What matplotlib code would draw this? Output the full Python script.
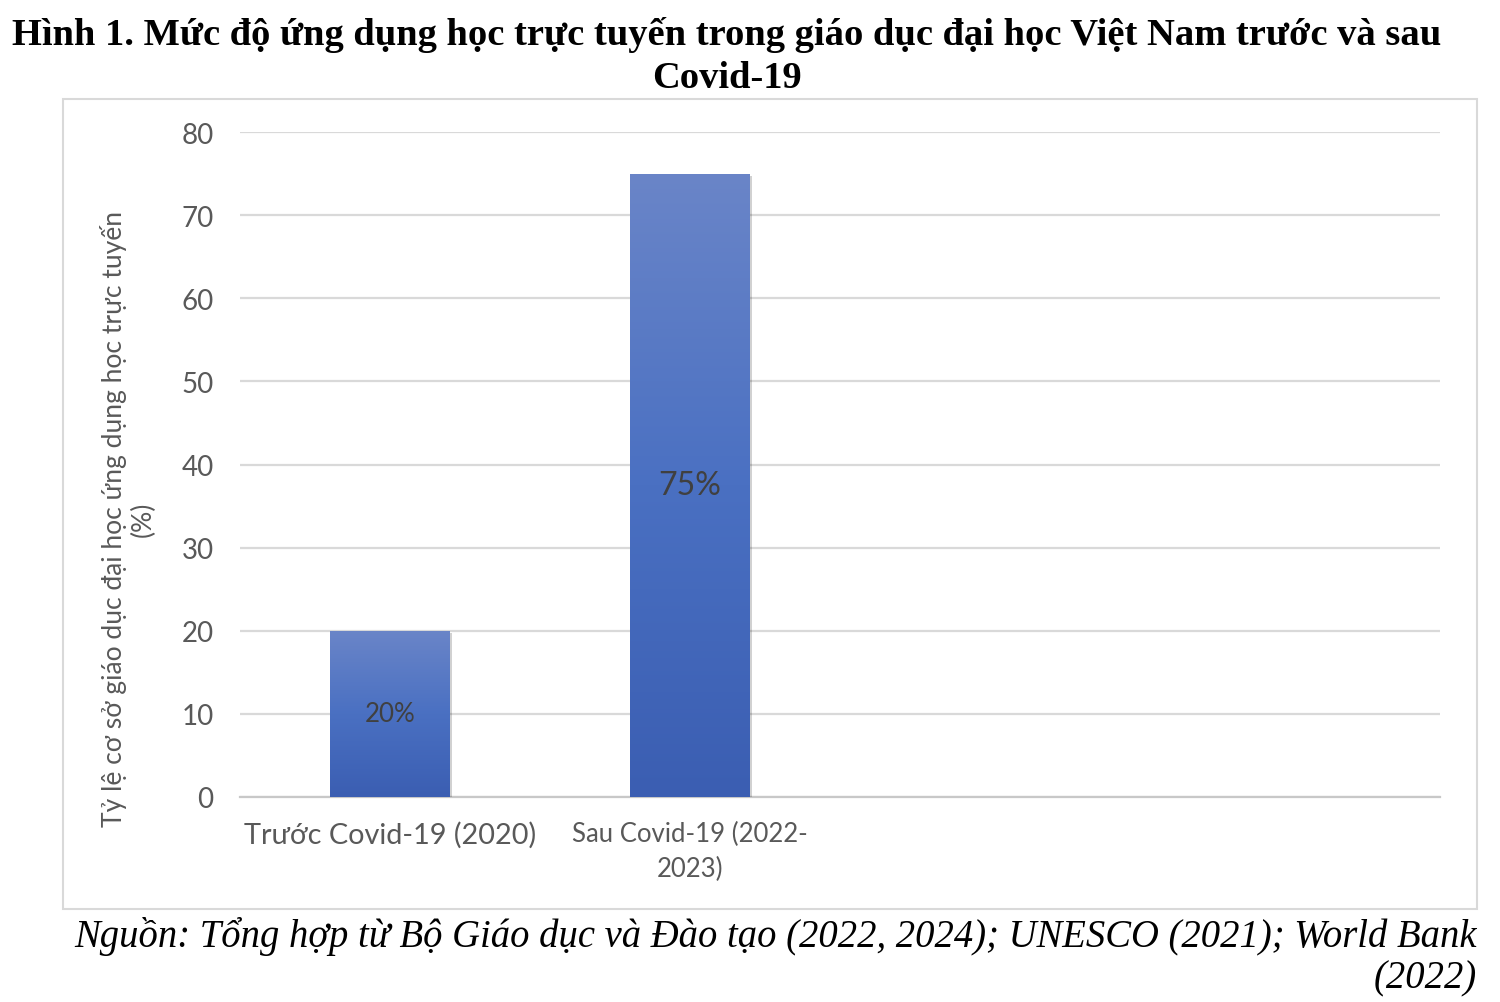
import matplotlib
matplotlib.use("Agg")
import matplotlib.pyplot as plt
import numpy as np
from matplotlib.patches import Rectangle
from matplotlib.colors import LinearSegmentedColormap
import matplotlib.patheffects as pe

# ---- data ----
categories = ["Trước Covid-19 (2020)", "Sau Covid-19 (2022-\n2023)", "", ""]
values = [20, 75, None, None]
value_labels = ["20%", "75%", "", ""]
yticks = [0, 10, 20, 30, 40, 50, 60, 70, 80]
title = "Hình 1. Mức độ ứng dụng học trực tuyến trong giáo dục đại học Việt Nam trước và sau\nCovid-19"
ylabel = "Tỷ lệ cơ sở giáo dục đại học ứng dụng học trực tuyến\n(%)"
source = "Nguồn: Tổng hợp từ Bộ Giáo dục và Đào tạo (2022, 2024); UNESCO (2021); World Bank\n(2022)"

sans = ["Lato", "Open Sans", "DejaVu Sans"]
serif = ["Liberation Serif", "DejaVu Serif"]
gray = "#595959"

fig = plt.figure(figsize=(15, 10.03), dpi=100)
W, H = 1500, 1003
ax = fig.add_axes([240 / W, 1 - 798 / H, 1200 / W, 665 / H])

x = np.arange(len(categories))
heights = [v if v is not None else 0 for v in values]
bars = ax.bar(x, heights, width=0.4, color="#4472c4", zorder=3)

cmap = LinearSegmentedColormap.from_list("g", ["#3b5eb2", "#4a70c2", "#6a85c8"])
grad = np.linspace(0, 1, 256).reshape(-1, 1)
for b, v in zip(bars, values):
    if v is None:
        b.set_visible(False)
        continue
    b.set_facecolor("none")
    b.set_path_effects([pe.SimplePatchShadow(offset=(1.5, -1.5), shadow_rgbFace="#000000", alpha=0.18)])
    x0, w, h = b.get_x(), b.get_width(), b.get_height()
    im = ax.imshow(grad, cmap=cmap, origin="lower", aspect="auto",
                   extent=[x0, x0 + w, 0, h], zorder=4)
    im.set_clip_path(b)

label_sizes = [18.6, 23]
for b, lab, v, fs in zip(bars, value_labels, values, label_sizes):
    if v is None:
        continue
    ax.text(b.get_x() + b.get_width() / 2, v / 2, lab, ha="center", va="center",
            fontsize=fs, color="#404040", family=sans, zorder=6)

ax.set_xlim(-0.5, len(categories) - 0.5)
ax.set_ylim(0, 80)
ax.set_yticks(yticks)
ax.set_yticklabels([str(t) for t in yticks], family=sans, fontsize=20, color=gray)
ax.set_xticks(x)
ax.set_xticklabels(categories, family=sans, color=gray)
for i, t in enumerate(ax.get_xticklabels()):
    t.set_fontsize(20.8 if i == 0 else 18.5)
    t.set_linespacing(1.5)
ax.tick_params(axis="y", length=0, pad=19)
ax.tick_params(axis="x", length=0, pad=17)
for s in ["top", "right", "left"]:
    ax.spines[s].set_visible(False)
ax.spines["bottom"].set_color("#c8c8c8")
ax.spines["bottom"].set_linewidth(1.6)
ax.grid(axis="y", color="#d9d9d9", linewidth=1.6, zorder=0)
ax.set_axisbelow(True)

fig.text(128 / W, 1 - 519 / H, ylabel, rotation=90, ha="center", va="center",
         family=sans, fontsize=19.1, color=gray, multialignment="center", linespacing=1.15)

# chart border
fig.patches.append(Rectangle((63 / W, 1 - 910 / H), (1477 - 63) / W, (910 - 100) / H,
                             transform=fig.transFigure, fill=False, edgecolor="#d9d9d9",
                             linewidth=1.5))

fig.text(727 / W, 1 - 17 / H, title, ha="center", va="top", family=serif,
         fontweight="bold", fontsize=27.7, color="black", linespacing=1.3)
fig.text(1477 / W, 1 - 917 / H, source, ha="right", va="top", family=serif,
         style="italic", fontsize=27.8, color="black", linespacing=1.17, multialignment="right")

fig.savefig("out.png", dpi=100, facecolor="white")
